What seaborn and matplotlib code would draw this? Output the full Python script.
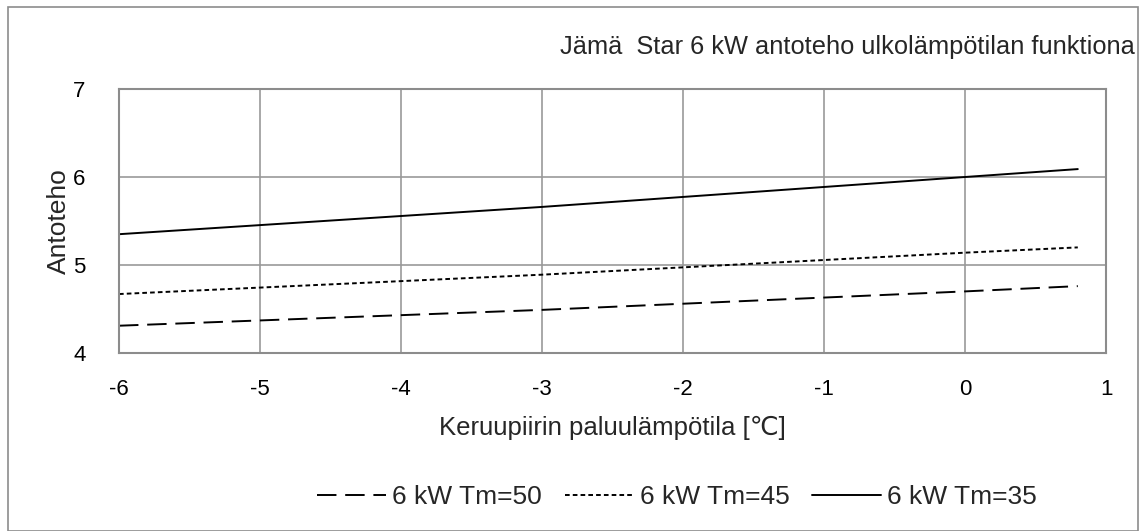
import matplotlib
matplotlib.use("Agg")
import matplotlib.pyplot as plt
import seaborn as sns
import pandas as pd
from matplotlib.patches import Rectangle

x_vals = [-6, -3, 0, 0.8]
tm50 = [4.31, 4.49, 4.70, 4.76]
tm45 = [4.67, 4.89, 5.14, 5.20]
tm35 = [5.35, 5.66, 6.00, 6.09]
labels = ["6 kW Tm=50", "6 kW Tm=45", "6 kW Tm=35"]
x_ticks = [-6, -5, -4, -3, -2, -1, 0, 1]
y_ticks = [4, 5, 6, 7]

sns.set_theme(style="white")
plt.rcParams['font.family'] = ['Liberation Sans', 'DejaVu Sans']

fig = plt.figure(figsize=(11.47, 5.31), dpi=100)
ax = fig.add_axes([119/1147, 1-353/531, (1106-119)/1147, (353-89)/531])

styles = [(0, (10, 4.5)), (0, (2.4, 1.6)), "-"]
for series, lab, ls in zip([tm50, tm45, tm35], labels, styles):
    df = pd.DataFrame({"x": x_vals, "y": series})
    sns.lineplot(data=df, x="x", y="y", ax=ax, color="black", linewidth=1.4,
                 linestyle=ls, label=lab)

ax.set_xlim(-6, 1)
ax.set_ylim(4, 7)
ax.set_xticks(x_ticks)
ax.set_xticklabels([str(t) for t in x_ticks])
ax.set_yticks(y_ticks)
ax.grid(True, color="#999999", linewidth=1.2)
for s in ax.spines.values():
    s.set_color("#8c8c8c")
    s.set_linewidth(1.5)
ax.tick_params(axis="both", length=0, labelsize=16, colors="black")
ax.tick_params(axis="x", pad=19)
ax.tick_params(axis="y", pad=24)
ax.set_xlabel("Keruupiirin paluulämpötila [℃]", fontsize=18.5, labelpad=11)
ax.set_ylabel("Antoteho", fontsize=19, labelpad=2)

fig.text(1135/1147, 1-47/531, "Jämä  Star 6 kW antoteho ulkolämpötilan funktiona",
         ha="right", va="center", fontsize=18.3)

leg = ax.legend(loc="center", bbox_to_anchor=((677-119)/987, -(497-353)/(353-89)), ncol=3,
                frameon=False, fontsize=19, handlelength=2.6, columnspacing=0.85,
                handletextpad=0.25)

fig.add_artist(Rectangle((8/1147, 0), (1138-8)/1147, 1-7/531, transform=fig.transFigure,
                         fill=False, edgecolor="#8c8c8c", linewidth=1.2))

fig.savefig("out.png", dpi=100)
